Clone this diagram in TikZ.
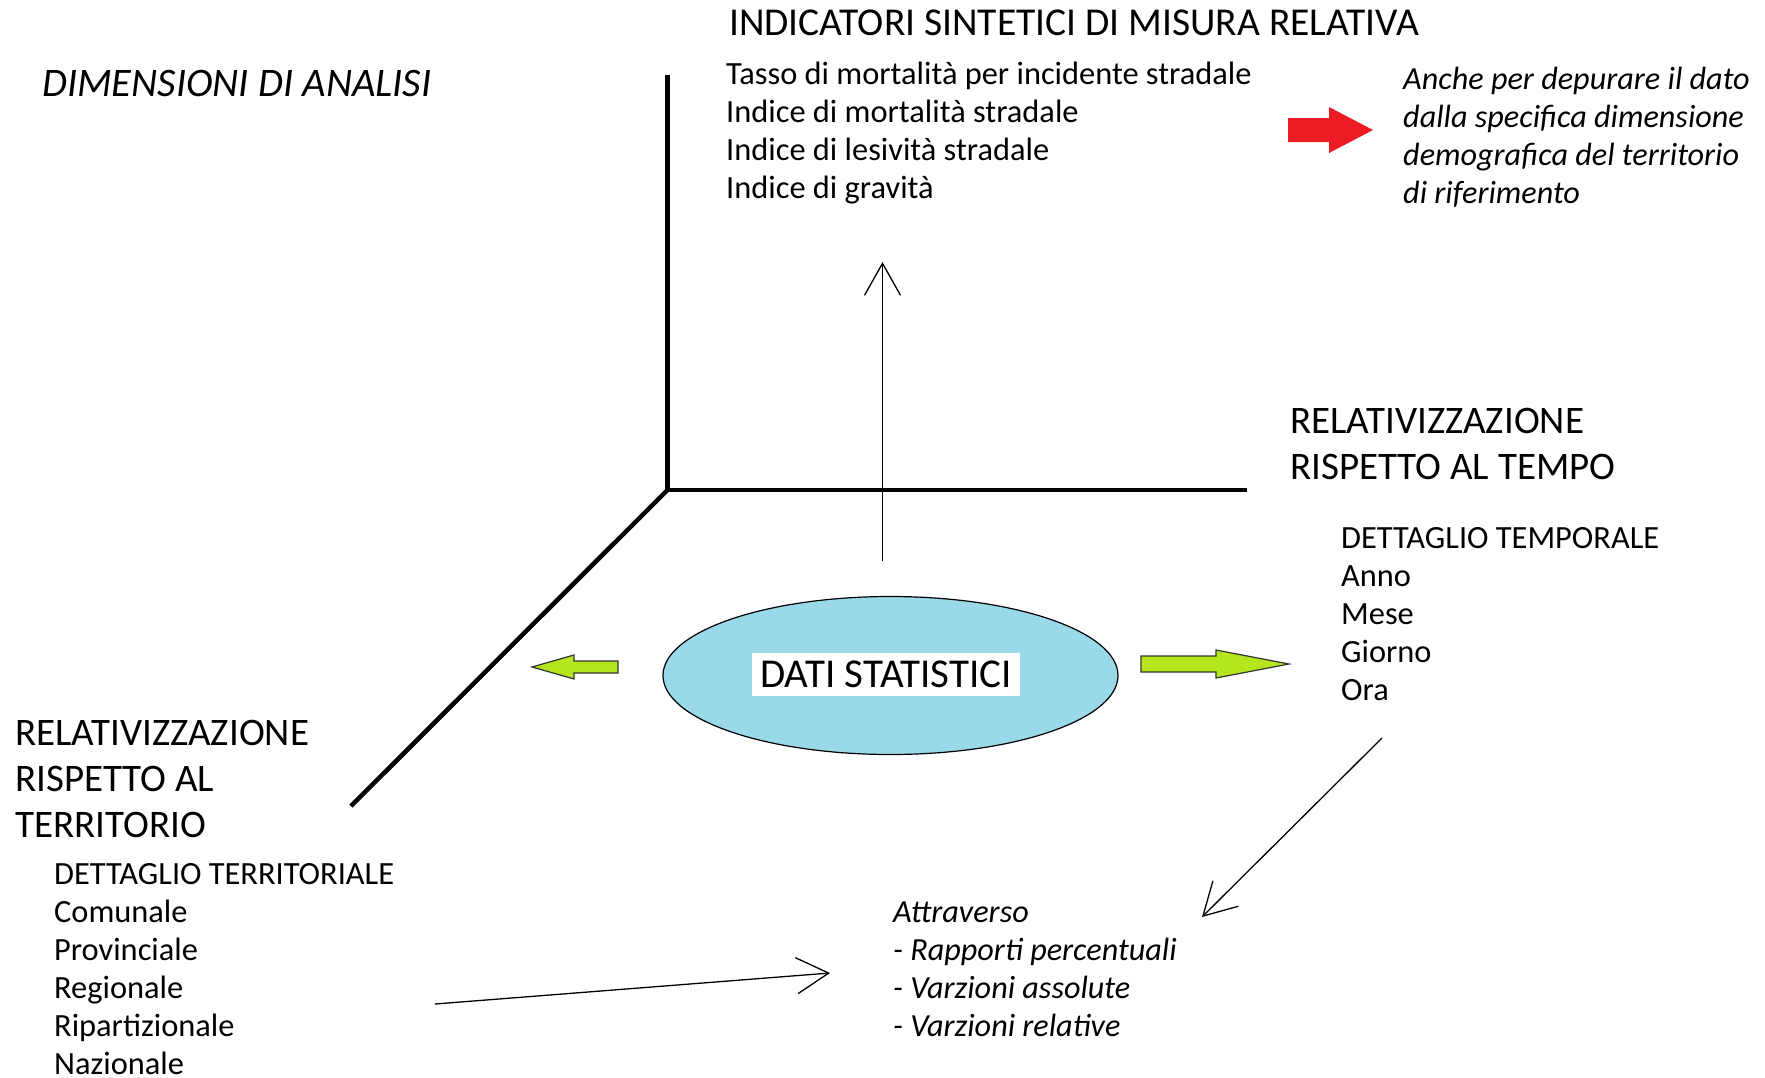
\documentclass[tikz,border=0pt]{standalone}
\usepackage{fontspec}
\setmainfont{Carlito}
\usetikzlibrary{arrows.meta,shapes.geometric}
\definecolor{skyfill}{HTML}{99D9EA}
\definecolor{limeg}{HTML}{B5E61D}
\definecolor{redarr}{HTML}{ED1C24}
\tikzset{
  hdr/.style={font=\fontsize{39}{46}\selectfont, inner sep=0pt, anchor=base west, align=left},
  bodytxt/.style={font=\fontsize{32.4}{38}\selectfont, inner sep=0pt, anchor=base west, align=left},
  axis/.style={line width=4.5pt},
  thinarrow/.style={line width=1.3pt, -{Straight Barb[length=32pt,width=36pt,line width=1.3pt]}},
  greenarr/.style={draw=black!80, line width=1.2pt, fill=limeg},
}
\begin{document}
\begin{tikzpicture}[x=1pt,y=-1pt]
\useasboundingbox (0,0) rectangle (1765,1077);

% axes
\coordinate (O) at (667.5,490);
\coordinate (Yt) at (667.5,75);
\coordinate (Xr) at (1247,490);
\coordinate (Zd) at (351,806);
\draw[axis] (Yt) -- (O) -- (Xr);
\draw[axis] (O) -- (Zd);

% texts (multi-line nodes: base = baseline of last line)
\node[hdr, font=\fontsize{40.5}{46}\selectfont\itshape] (dim) at (42,96) {DIMENSIONI DI ANALISI};
\node[hdr, font=\fontsize{39.5}{46}\selectfont] (ind) at (729,35) {INDICATORI SINTETICI DI MISURA RELATIVA};
\node[bodytxt] (list) at (726,198) {Tasso di mortalità per incidente stradale\\Indice di mortalità stradale\\Indice di lesività stradale\\Indice di gravità};
\node[bodytxt, font=\fontsize{32.2}{38}\selectfont\itshape] (note) at (1403,203) {Anche per depurare il dato\\dalla specifica dimensione\\demografica del territorio\\di riferimento};
\node[hdr] (rtempo) at (1290,479) {RELATIVIZZAZIONE\\RISPETTO AL TEMPO};
\node[bodytxt] (dtempo) at (1341,700) {DETTAGLIO TEMPORALE\\Anno\\Mese\\Giorno\\Ora};
\node[hdr] (rterr) at (15,837) {RELATIVIZZAZIONE\\RISPETTO AL\\TERRITORIO};
\node[bodytxt] (dterr) at (54,1074) {DETTAGLIO TERRITORIALE\\Comunale\\Provinciale\\Regionale\\Ripartizionale\\Nazionale};
\node[bodytxt, font=\fontsize{32.2}{38}\selectfont\itshape] (attr) at (893,1036) {Attraverso\\- Rapporti percentuali\\- Varzioni assolute\\- Varzioni relative};

% ellipse
\node[ellipse, draw=black, line width=1.2pt, fill=skyfill, minimum width=455, minimum height=158, inner sep=0pt] (ell) at (890.5,675.5) {};
\node[fill=white, minimum width=268, minimum height=43, inner sep=0pt, font=\fontsize{41}{46}\selectfont] (dati) at (886,674.5) {DATI STATISTICI};

% red block arrow
\fill[redarr] (1288,118) -- (1329,118) -- (1329,107) -- (1373,130) -- (1329,153) -- (1329,142) -- (1288,142) -- cycle;

% green block arrows
\draw[greenarr] (618,661) -- (574,661) -- (574,655) -- (532,667) -- (574,679) -- (574,673) -- (618,673) -- cycle;
\draw[greenarr] (1141,656) -- (1216,656) -- (1216,650) -- (1289,664) -- (1216,678) -- (1216,672) -- (1141,672) -- cycle;

% thin arrows
\coordinate (vs) at (882.5,561);
\coordinate (ve) at (882.5,262);
\draw[thinarrow] (vs) -- (ve);
\coordinate (ds) at (1382,738);
\coordinate (de) at (1202,917);
\draw[thinarrow] (ds) -- (de);
\coordinate (hs) at (435,1004);
\coordinate (he) at (830,973);
\draw[thinarrow] (hs) -- (he);
\end{tikzpicture}
\end{document}
